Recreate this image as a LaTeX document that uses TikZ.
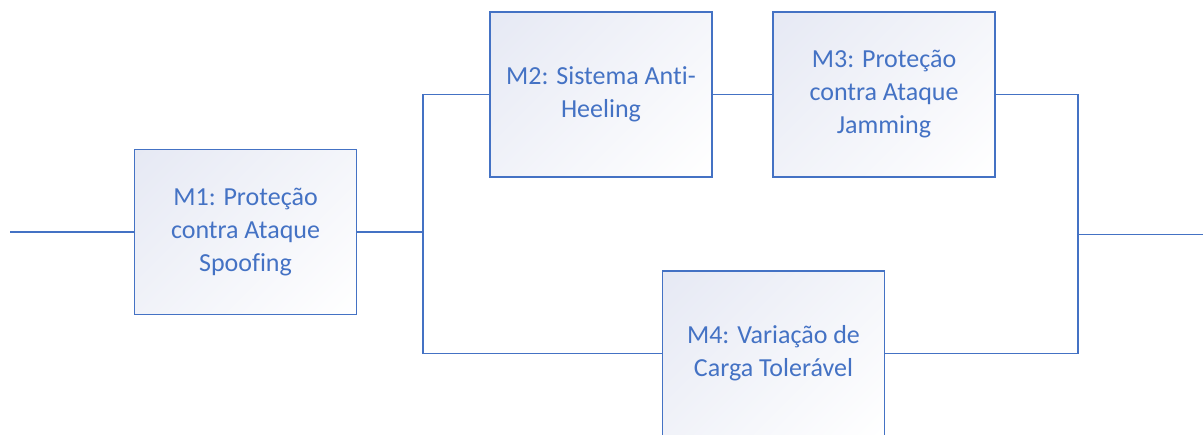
\documentclass[tikz,border=0pt]{standalone}
\usepackage{fontspec}
\setmainfont{Carlito}[Ligatures={NoCommon}]
\definecolor{accent}{HTML}{4472C4}
\definecolor{tint}{HTML}{E6E9F4}
% soft diagonal fade: tinted corner to white corner
\pgfdeclareverticalshading{boxfade}{100bp}{color(0bp)=(white); color(15bp)=(white); color(85bp)=(tint); color(100bp)=(tint)}
\begin{document}
\begin{tikzpicture}[x=1pt,y=1pt,
  blockbox/.style={draw=accent, line width=1.8pt, minimum width=222pt, minimum height=165pt,
    shading=boxfade, shading angle=45,
    align=center, text=accent, font=\fontsize{26}{33}\selectfont, inner sep=0pt},
  wire/.style={draw=accent, line width=1.8pt}]
\useasboundingbox (0,0) rectangle (1203,435);
\clip (0,0) rectangle (1203,435);
\node[blockbox] (m1) at (245.5,203) {M1: Proteção\\contra Ataque\\Spoofing};
\node[blockbox] (m2) at (601,340.5) {M2: Sistema Anti-\\Heeling};
\node[blockbox] (m3) at (884,340.5) {M3: Proteção\\contra Ataque\\Jamming};
\node[blockbox] (m4) at (773.5,81.5) {M4: Variação de\\Carga Tolerável};
\coordinate (in) at (10,203);
\coordinate (jl) at (423,203);
\coordinate (jr) at (1078,200.5);
\coordinate (out) at (1203,200.5);
\draw[wire] (in) -- (m1.west);
\draw[wire] (m1.east) -- (jl);
\draw[wire] (jl) |- (m2.west);
\draw[wire] (jl) |- (m4.west);
\draw[wire] (m2.east) -- (m3.west);
\draw[wire] (m3.east) -| (jr);
\draw[wire] (m4.east) -| (jr);
\draw[wire] (jr) -- (out);
\end{tikzpicture}
\end{document}
